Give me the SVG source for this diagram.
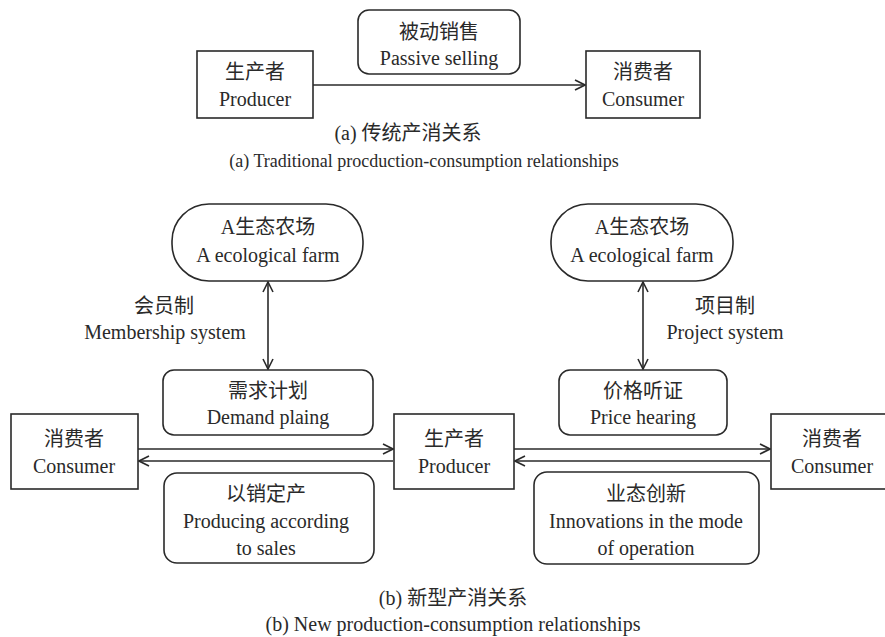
<svg xmlns="http://www.w3.org/2000/svg" width="885" height="637" viewBox="0 0 885 637">
<style>
.box{fill:#fff;stroke:#2a2a2a;stroke-width:1.6}
.ln{fill:none;stroke:#2a2a2a;stroke-width:1.6}
text{font-family:"Liberation Serif","Noto Sans CJK SC",serif;font-size:20px;fill:#2a2a2a;text-anchor:middle}
.cap{font-size:18px}
</style>
<defs>
<marker id="ah" viewBox="0 0 12 12" refX="11" refY="6" markerWidth="12" markerHeight="12" markerUnits="userSpaceOnUse" orient="auto-start-reverse">
<path d="M1,1 L11,6 L1,11" fill="none" stroke="#2a2a2a" stroke-width="1.6"/>
</marker>
</defs>
<rect width="885" height="637" fill="#fff"/>
<g id="connectors">
<line class="ln" x1="313" y1="85" x2="585" y2="85" marker-end="url(#ah)"/>
<line class="ln" x1="268" y1="282" x2="268" y2="369" marker-start="url(#ah)" marker-end="url(#ah)"/>
<line class="ln" x1="643" y1="282" x2="643" y2="369" marker-start="url(#ah)" marker-end="url(#ah)"/>
<line class="ln" x1="138" y1="449" x2="393" y2="449" marker-end="url(#ah)"/>
<line class="ln" x1="393" y1="461" x2="139" y2="461" marker-end="url(#ah)"/>
<line class="ln" x1="514" y1="449" x2="770" y2="449" marker-end="url(#ah)"/>
<line class="ln" x1="770" y1="461" x2="515" y2="461" marker-end="url(#ah)"/>
</g>
<g id="a-producer">
<rect class="box" x="197" y="51" width="116" height="67"/>
<text x="255" y="79">生产者</text>
<text x="255" y="106">Producer</text>
</g>
<g id="a-passive">
<rect class="box" x="358" y="10" width="162" height="64" rx="11"/>
<text x="439" y="39">被动销售</text>
<text x="439" y="65">Passive selling</text>
</g>
<g id="a-consumer">
<rect class="box" x="586" y="51" width="114" height="67"/>
<text x="643" y="79">消费者</text>
<text x="643" y="106">Consumer</text>
</g>
<g id="caption-a">
<text x="408" y="140">(a) 传统产消关系</text>
<text class="cap" x="424" y="167">(a) Traditional procduction-consumption relationships</text>
</g>
<g id="farm-left">
<rect class="box" x="172" y="204" width="191" height="77" rx="37"/>
<text x="268" y="234">A生态农场</text>
<text x="268" y="262">A ecological farm</text>
</g>
<g id="label-membership">
<text x="164" y="313">会员制</text>
<text x="165" y="339">Membership system</text>
</g>
<g id="demand">
<rect class="box" x="163" y="370" width="210" height="65" rx="11"/>
<text x="268" y="398">需求计划</text>
<text x="268" y="424">Demand plaing</text>
</g>
<g id="farm-right">
<rect class="box" x="551" y="204" width="182" height="77" rx="37"/>
<text x="642" y="234">A生态农场</text>
<text x="642" y="262">A ecological farm</text>
</g>
<g id="label-project">
<text x="725" y="313">项目制</text>
<text x="725" y="339">Project system</text>
</g>
<g id="price">
<rect class="box" x="559" y="370" width="168" height="65" rx="11"/>
<text x="643" y="398">价格听证</text>
<text x="643" y="424">Price hearing</text>
</g>
<g id="b-consumer-left">
<rect class="box" x="11" y="414" width="127" height="75"/>
<text x="74" y="446">消费者</text>
<text x="74" y="473">Consumer</text>
</g>
<g id="b-producer">
<rect class="box" x="394" y="414" width="120" height="75"/>
<text x="454" y="446">生产者</text>
<text x="454" y="473">Producer</text>
</g>
<g id="b-consumer-right">
<rect class="box" x="771" y="414" width="125" height="75"/>
<text x="832" y="446">消费者</text>
<text x="832" y="473">Consumer</text>
</g>
<g id="sales">
<rect class="box" x="164" y="473" width="210" height="90" rx="13"/>
<text x="266" y="501">以销定产</text>
<text x="266" y="528">Producing according</text>
<text x="266" y="555">to sales</text>
</g>
<g id="innovation">
<rect class="box" x="534" y="472" width="225" height="92" rx="13"/>
<text x="646" y="501">业态创新</text>
<text x="646" y="528">Innovations in the mode</text>
<text x="646" y="555">of operation</text>
</g>
<g id="caption-b">
<text x="453" y="605">(b) 新型产消关系</text>
<text x="453" y="631">(b) New production-consumption relationships</text>
</g>
</svg>
